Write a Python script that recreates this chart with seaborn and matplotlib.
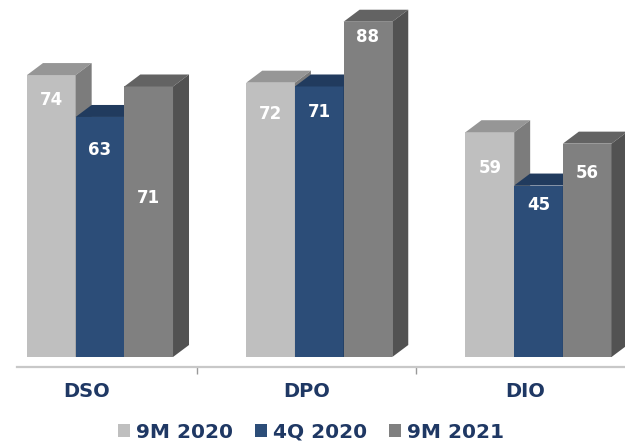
import numpy as np
import pandas as pd
import matplotlib
matplotlib.use("Agg")
import matplotlib.pyplot as plt
from matplotlib.patches import Polygon, Patch
from matplotlib.transforms import ScaledTranslation
import seaborn as sns

# ---- data ----
categories = ["DSO", "DPO", "DIO"]
series = ["9M 2020", "4Q 2020", "9M 2021"]
v_9m2020 = [74, 72, 59]
v_4q2020 = [63, 71, 45]
v_9m2021 = [71, 88, 56]

values = {"9M 2020": v_9m2020, "4Q 2020": v_4q2020, "9M 2021": v_9m2021}
rows = []
for s in series:
    for c, v in zip(categories, values[s]):
        rows.append({"cat": c, "series": s, "val": v})
df = pd.DataFrame(rows)

# ---- style ----
front = {"9M 2020": "#BFBFBF", "4Q 2020": "#2C4D78", "9M 2021": "#808080"}
top = {"9M 2020": "#969696", "4Q 2020": "#213B5E", "9M 2021": "#636363"}
side = {"9M 2020": "#7C7C7C", "4Q 2020": "#1B3150", "9M 2021": "#525252"}
label_drop_px = {"9M 2020": [25, 31, 36], "4Q 2020": [33, 26, 19], "9M 2021": [112, 15, 29]}
navy = "#1F3864"

sns.set_theme(style="white")
plt.rcParams["font.family"] = ["DejaVu Sans"]

W, H, DPI = 625, 441, 100
fig = plt.figure(figsize=(W / DPI, H / DPI), dpi=DPI)
ax_left, ax_right, ax_top, ax_bot = 17, 625, 0, 367
ax = fig.add_axes([ax_left / W, (H - ax_bot) / H, (ax_right - ax_left) / W, (ax_bot - ax_top) / H])

sns.barplot(data=df, x="cat", y="val", hue="series", hue_order=series, order=categories,
            palette=[front[s] for s in series], width=0.666, saturation=1, legend=False,
            linewidth=0, ax=ax)

px_per_unit_y = 3.81
base_px = 10  # bars start 10px above axis line
ylo = -base_px / px_per_unit_y
yhi = ylo + (ax_bot - ax_top) / px_per_unit_y
group_px = 219.25
x0_px = 100
xlo = (ax_left - x0_px) / group_px
xhi = (ax_right - x0_px) / group_px
ax.set_xlim(xlo, xhi)
ax.set_ylim(ylo, yhi)

dx = 16 / group_px
dy = 12 / px_per_unit_y

bars = list(ax.patches)
k = 0
for si, s in enumerate(series):
    for ci, c in enumerate(categories):
        p = bars[k]
        k += 1
        x, w, h = p.get_x(), p.get_width(), p.get_height()
        z = 2 + si
        p.set_zorder(z)
        ax.add_patch(Polygon([(x, h), (x + w, h), (x + w + dx, h + dy), (x + dx, h + dy)],
                             closed=True, facecolor=top[s], edgecolor="none", zorder=z))
        ax.add_patch(Polygon([(x + w, 0), (x + w + dx, dy), (x + w + dx, h + dy), (x + w, h)],
                             closed=True, facecolor=side[s], edgecolor="none", zorder=z))
        ty = h - label_drop_px[s][ci] / px_per_unit_y
        ax.text(x + w / 2, ty, f"{h:.0f}", ha="center", va="center", color="white",
                fontsize=12, fontweight="bold", zorder=10)

# axis styling
for sp in ["top", "right", "left"]:
    ax.spines[sp].set_visible(False)
ax.spines["bottom"].set_color("#C8C8C8")
ax.spines["bottom"].set_linewidth(1.6)
ax.set_yticks([])
ax.set_xlabel("")
ax.set_ylabel("")
shift = -13 / group_px
ax.set_xticks([0, 1, 2])
ax.set_xticklabels(categories, fontsize=14, fontweight="bold", color=navy)
ax.tick_params(axis="x", which="major", length=0, pad=11)
off = ScaledTranslation(-13 / DPI, 0, fig.dpi_scale_trans)
for lab in ax.get_xticklabels():
    lab.set_transform(lab.get_transform() + off)
ax.set_xticks([0.5 + shift, 1.5 + shift], minor=True)
ax.tick_params(axis="x", which="minor", length=5, width=1, color="#999999", direction="out", bottom=True)

handles = [Patch(facecolor=front[s], edgecolor="none", label=s) for s in series]
leg = fig.legend(handles=handles, loc="center", bbox_to_anchor=(311 / W, 1 - 432 / H), ncol=3,
                 frameon=False, prop={"size": 14.5, "weight": "bold"}, handlelength=0.6,
                 handleheight=0.6, handletextpad=0.3, columnspacing=1.1, borderpad=0)
for t in leg.get_texts():
    t.set_color(navy)

fig.savefig("out.png", dpi=DPI)
